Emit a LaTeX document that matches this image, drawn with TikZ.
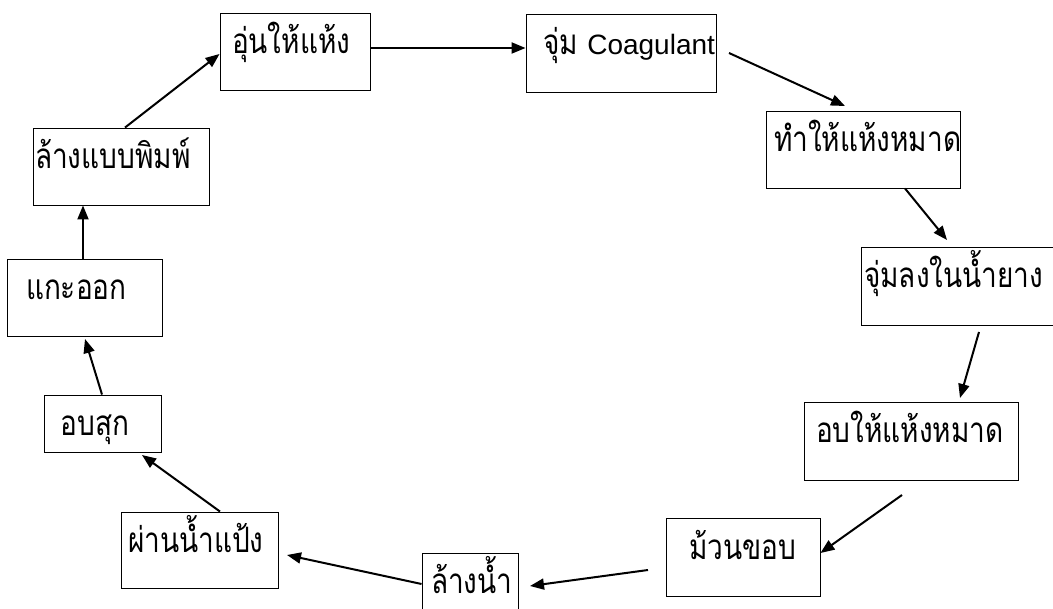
\documentclass[tikz,border=0pt]{standalone}
\usepackage{fontspec}
\newfontfamily\thaifont[Script=Thai, FakeStretch=0.8]{Loma}
\newfontfamily\latinfont{Liberation Sans}
\usetikzlibrary{arrows.meta}
\newcommand\boxtext[3]{\makebox[#1pt][l]{\hspace*{#2pt}#3}}
\begin{document}
\begin{tikzpicture}[x=1pt,y=-1pt,
  box/.style={draw, line width=0.9pt, inner sep=0pt,
    font=\thaifont\fontsize{35}{38}\selectfont, text height=41pt},
  flow/.style={line width=2pt, -{Triangle[length=14pt,width=11pt]}}]
\useasboundingbox (0,0) rectangle (1053,609);
\fill[white] (0,0) rectangle (1053,609);
% boxes
\node[box, text depth=36pt] (n1)  at (295,51.5)  {\boxtext{150}{12}{อุ่นให้แห้ง}};
\node[box, text depth=37pt] (n2)  at (621,53)    {\boxtext{190}{17}{จุ่ม {\latinfont\fontsize{28}{34}\selectfont Coagulant}}};
\node[box, text depth=36pt] (n3)  at (863,149.5) {\boxtext{194}{8}{ทำให้แห้งหมาด}};
\node[box, text depth=37pt] (n4)  at (964,286)   {\boxtext{206}{3}{จุ่มลงในน้ำยาง}};
\node[box, text depth=37pt] (n5)  at (911,441)   {\boxtext{214}{12}{อบให้แห้งหมาด}};
\node[box, text depth=37pt] (n6)  at (743,557)   {\boxtext{154}{23}{ม้วนขอบ}};
\node[box, text depth=37pt] (n7)  at (470,592)   {\boxtext{96}{9}{ล้างน้ำ}};
\node[box, text depth=35pt] (n8)  at (199.5,550) {\boxtext{157}{7}{ผ่านน้ำแป้ง}};
\node[box, text depth=16pt] (n9)  at (102.5,423.5) {\boxtext{117}{17}{อบสุก}};
\node[box, text depth=36pt] (n10) at (84.5,297.5) {\boxtext{155}{19}{แกะออก}};
\node[box, text depth=36pt] (n11) at (121,166.5)  {\boxtext{176}{2}{ล้างแบบพิมพ์}};
% free connector ends
\coordinate (c2s) at (729,53);
\coordinate (c2e) at (845,106);
\coordinate (d4e) at (947,240);
\coordinate (e5s) at (979,332);
\coordinate (e5e) at (960,398);
\coordinate (f6s) at (902,495);
\coordinate (g7s) at (648,570);
\coordinate (g7e) at (530,586);
\coordinate (h8e) at (287,555);
\coordinate (i9e) at (142,455);
\coordinate (j10e) at (85,339);
% connectors
\draw[flow] (125,0 |- n11.north) -- (n1.west |- 0,54);
\draw[flow] (n1.east |- 0,48) -- (n2.west |- 0,48);
\draw[flow] (c2s) -- (c2e);
\draw[flow] (905,0 |- n3.south) -- (d4e);
\draw[flow] (e5s) -- (e5e);
\draw[flow] (f6s) -- (n6.east |- 0,553);
\draw[flow] (g7s) -- (g7e);
\draw[flow] (n7.west |- 0,584) -- (h8e);
\draw[flow] (220,0 |- n8.north) -- (i9e);
\draw[flow] (102,0 |- n9.north) -- (j10e);
\draw[flow] (83,0 |- n10.north) -- (83,0 |- n11.south);
\end{tikzpicture}
\end{document}
